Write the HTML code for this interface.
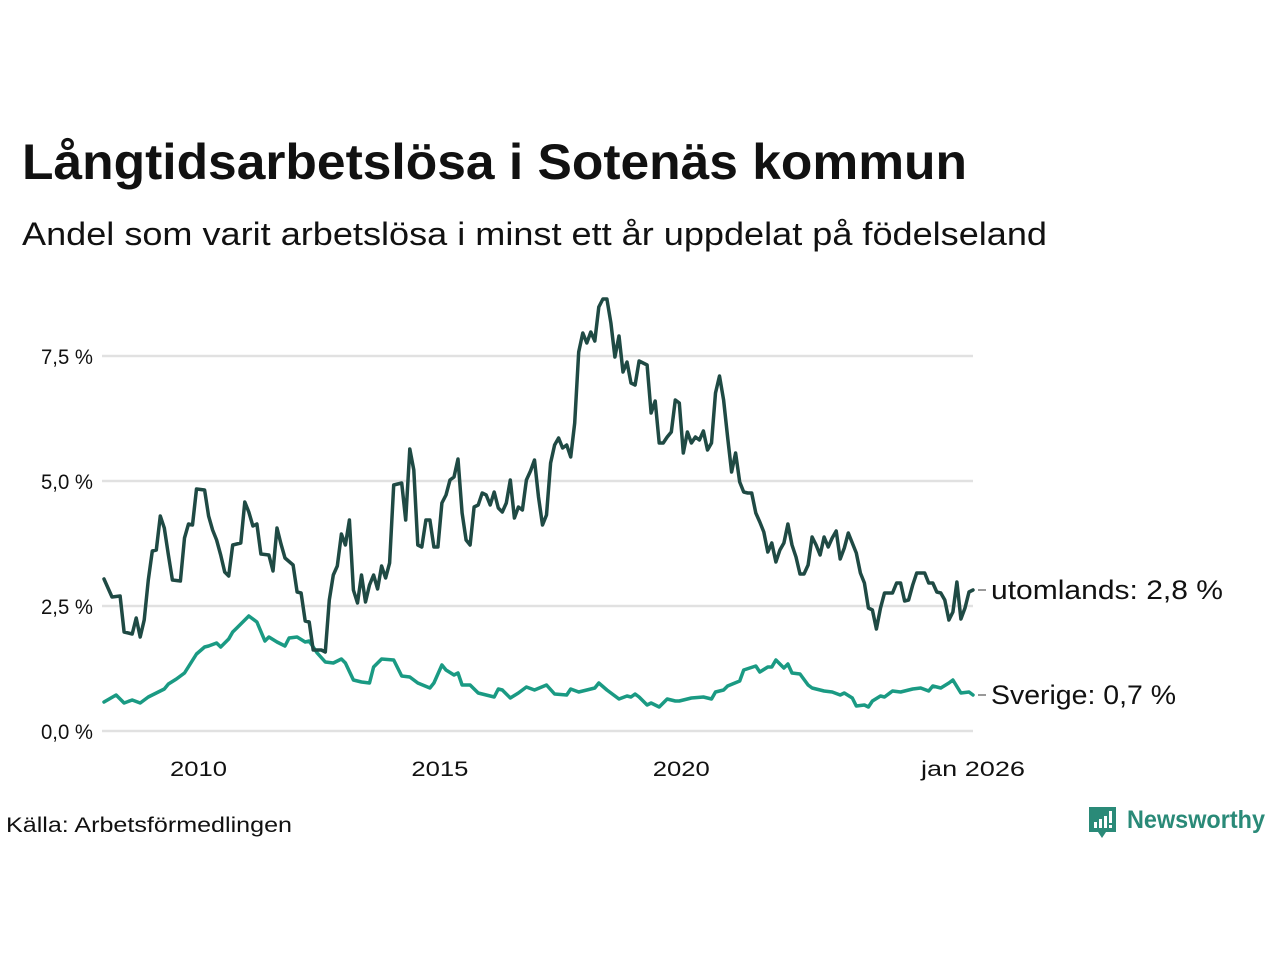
<!DOCTYPE html>
<html><head><meta charset="utf-8">
<style>
html,body{margin:0;padding:0;background:#fff;}
svg{display:block;font-family:"Liberation Sans","DejaVu Sans",sans-serif;}
</style></head>
<body>
<svg id="chart" width="1280" height="960" viewBox="0 0 1280 960" xmlns="http://www.w3.org/2000/svg">
  <text x="22" y="179" font-size="50" font-weight="bold" fill="#111" textLength="945" lengthAdjust="spacingAndGlyphs">Långtidsarbetslösa i Sotenäs kommun</text>
  <text x="22" y="245" font-size="32" fill="#111" textLength="1025" lengthAdjust="spacingAndGlyphs">Andel som varit arbetslösa i minst ett år uppdelat på födelseland</text>
  <g id="grid"></g>
  <g id="yticks"></g>
  <g id="xticks"></g>
  <g id="series"></g>
  <text x="6" y="832" font-size="21" fill="#111" textLength="286" lengthAdjust="spacingAndGlyphs">Källa: Arbetsförmedlingen</text>
  <g>
    <path d="M1089 807 h27 v25 h-10 l-4 6 l-4 -6 h-9 z" fill="#2a8a78"/>
    <rect x="1094" y="822" width="3" height="6" fill="#fff"/>
    <rect x="1099" y="819" width="3" height="9" fill="#fff"/>
    <rect x="1104" y="816" width="3" height="12" fill="#fff"/>
    <rect x="1109" y="811" width="3" height="12" fill="#fff"/>
    <rect x="1109" y="825" width="3" height="3" fill="#fff"/>
    <text x="1127" y="828" font-size="25" font-weight="bold" fill="#2a8a78" textLength="138" lengthAdjust="spacingAndGlyphs">Newsworthy</text>
  </g>
</svg>
<script>
const yTicks = [0, 2.5, 5.0, 7.5];
const yTickLabels = ["0,0 %", "2,5 %", "5,0 %", "7,5 %"];
const xTickMonths = [23.5, 83.5, 143.5, 216];
const xTickLabels = ["2010", "2015", "2020", "jan 2026"];
const utlMonths = [0,2,4,5,7,8,9,10,11,12,13,14,15,16,17,19,20,21,22,23,25,26,27,28,29,30,31,32,34,35,36,37,38,39,41,42,43,44,45,47,48,49,50,51,52,54,55,56,57,58,59,60,61,62,63,64,65,66,67,68,69,70,71,72,74,75,76,77,78,79,80,81,82,83,84,85,86,87,88,89,90,91,92,93,94,95,96,97,98,99,100,101,102,103,104,105,106,107,108,109,110,111,112,113,114,115,116,117,118,119,120,121,122,123,124,125,126,127,128,129,130,131,132,133,134,135,136,137,138,139,140,141,142,143,144,145,146,147,148,149,150,151,152,153,154,155,156,157,158,159,160,161,162,163,164,165,166,167,168,169,170,171,172,173,174,175,176,177,178,179,180,181,182,183,184,185,186,187,188,189,190,191,192,193,194,195,196,197,198,199,200,201,202,203,204,205,206,207,208,209,210,211,212,213,214,215,216];
const utlValues = [3.04,2.68,2.70,1.98,1.94,2.26,1.88,2.22,3.02,3.60,3.62,4.30,4.06,3.52,3.02,3.00,3.86,4.14,4.12,4.84,4.82,4.30,4.02,3.82,3.52,3.18,3.10,3.72,3.76,4.58,4.38,4.10,4.14,3.54,3.52,3.20,4.06,3.74,3.46,3.32,2.78,2.76,2.20,2.18,1.62,1.62,1.58,2.62,3.12,3.30,3.94,3.72,4.22,2.82,2.56,3.12,2.58,2.92,3.12,2.84,3.30,3.06,3.36,4.92,4.96,4.22,5.64,5.22,3.72,3.68,4.22,4.22,3.68,3.68,4.56,4.72,5.02,5.08,5.44,4.36,3.82,3.72,4.48,4.52,4.76,4.72,4.52,4.78,4.46,4.38,4.56,5.02,4.26,4.48,4.42,5.02,5.20,5.42,4.68,4.12,4.32,5.36,5.72,5.86,5.66,5.72,5.48,6.16,7.58,7.96,7.76,7.98,7.80,8.48,8.64,8.64,8.16,7.48,7.90,7.18,7.38,6.96,6.92,7.40,7.36,7.32,6.36,6.60,5.76,5.76,5.88,5.98,6.62,6.56,5.56,5.98,5.76,5.88,5.82,6.00,5.62,5.76,6.76,7.10,6.62,5.88,5.18,5.56,4.98,4.78,4.76,4.76,4.36,4.18,3.98,3.58,3.76,3.38,3.62,3.76,4.14,3.72,3.48,3.14,3.14,3.32,3.88,3.72,3.52,3.88,3.68,3.86,4.00,3.44,3.66,3.96,3.76,3.56,3.16,2.96,2.46,2.42,2.04,2.46,2.76,2.76,2.76,2.96,2.96,2.60,2.62,2.92,3.16,3.16,3.16,2.96,2.96,2.78,2.76,2.62,2.22,2.38,2.98,2.24,2.46,2.78,2.82];
const sveMonths = [0,3,5,7,9,11,13,15,16,18,20,23,25,26,28,29,31,32,33,36,38,40,41,43,45,46,48,50,51,53,55,57,59,60,62,64,66,67,69,72,74,76,78,81,82,84,85,87,88,89,91,93,95,97,98,99,101,103,105,107,110,112,115,116,118,120,122,123,125,128,130,131,132,133,135,136,138,140,142,143,146,149,151,152,154,155,158,159,162,163,165,166,167,169,170,171,173,175,176,179,181,183,184,186,187,189,190,191,193,194,196,198,201,203,205,206,208,210,211,213,215,216];
const sveValues = [0.58,0.72,0.56,0.62,0.56,0.68,0.76,0.84,0.94,1.04,1.16,1.54,1.68,1.70,1.76,1.68,1.84,1.98,2.06,2.30,2.18,1.80,1.88,1.78,1.70,1.86,1.88,1.78,1.80,1.56,1.38,1.36,1.44,1.36,1.02,0.98,0.96,1.28,1.44,1.42,1.10,1.08,0.96,0.86,0.96,1.32,1.22,1.12,1.16,0.92,0.92,0.76,0.72,0.68,0.84,0.82,0.66,0.76,0.88,0.82,0.92,0.74,0.72,0.84,0.78,0.82,0.86,0.96,0.82,0.64,0.70,0.68,0.74,0.68,0.52,0.56,0.48,0.64,0.60,0.60,0.66,0.68,0.64,0.78,0.82,0.90,1.00,1.22,1.30,1.18,1.28,1.28,1.42,1.26,1.34,1.16,1.14,0.92,0.86,0.80,0.78,0.72,0.76,0.66,0.50,0.52,0.48,0.60,0.70,0.68,0.80,0.78,0.84,0.86,0.80,0.90,0.86,0.96,1.02,0.76,0.78,0.72];
const utlLabel = "utomlands: 2,8 %";
const sveLabel = "Sverige: 0,7 %";

const NS = "http://www.w3.org/2000/svg";
const X0 = 104, X1 = 973, Y0 = 731, PXPER = 50;
function xScale(m){ return X0 + (X1 - X0) * m / 216; }
function yScale(v){ return Y0 - v * PXPER; }
function mk(tag, attrs, parent){
  const el = document.createElementNS(NS, tag);
  for (const k in attrs) el.setAttribute(k, attrs[k]);
  parent.appendChild(el);
  return el;
}
const grid = document.getElementById('grid');
const yt = document.getElementById('yticks');
const xt = document.getElementById('xticks');
const ser = document.getElementById('series');
yTicks.forEach((v, i) => {
  const ln = mk('line', {x1: X0 - 2, x2: X1, y1: yScale(v), y2: yScale(v), stroke: '#e1e1e1', 'stroke-width': 2.5}, grid);
  
  
  const t = mk('text', {x: 93, y: yScale(v) + 8, 'text-anchor': 'end', 'font-size': 21, fill: '#111', textLength: 52, lengthAdjust: 'spacingAndGlyphs'}, yt);
  
  
  t.textContent = yTickLabels[i];
});
xTickMonths.forEach((m, i) => {
  const w = xTickLabels[i].length > 4 ? 104 : 57;
  const t = mk('text', {x: xScale(m), y: 776, 'text-anchor': 'middle', 'font-size': 21, fill: '#111', textLength: w, lengthAdjust: 'spacingAndGlyphs'}, xt);
  
  
  t.textContent = xTickLabels[i];
});
function drawLine(months, values, color, name){
  const pts = months.map((m, i) => xScale(m).toFixed(1) + ',' + yScale(values[i]).toFixed(1)).join(' ');
  const pl = mk('polyline', {points: pts, fill: 'none', stroke: color, 'stroke-width': 3.5, 'stroke-linejoin': 'round', 'stroke-linecap': 'round'}, ser);
  
  
}
drawLine(sveMonths, sveValues, '#1a9a83', 'line-sverige');
drawLine(utlMonths, utlValues, '#1f4a44', 'line-utomlands');
function endLabel(months, values, text, name, dy, w){
  const m = months[months.length - 1], v = values[values.length - 1];
  const y = yScale(v) + dy;
  const tick = mk('line', {x1: xScale(m) + 5, x2: xScale(m) + 13, y1: y, y2: y, stroke: '#333', 'stroke-width': 1}, ser);
  
  
  const t = mk('text', {x: xScale(m) + 18, y: y + 9, 'font-size': 27, fill: '#111', textLength: w, lengthAdjust: 'spacingAndGlyphs'}, ser);
  
  
  t.textContent = text;
}
endLabel(utlMonths, utlValues, utlLabel, 'label-utomlands', 0, 232);
endLabel(sveMonths, sveValues, sveLabel, 'label-sverige', 0, 185);
</script>
</body></html>
